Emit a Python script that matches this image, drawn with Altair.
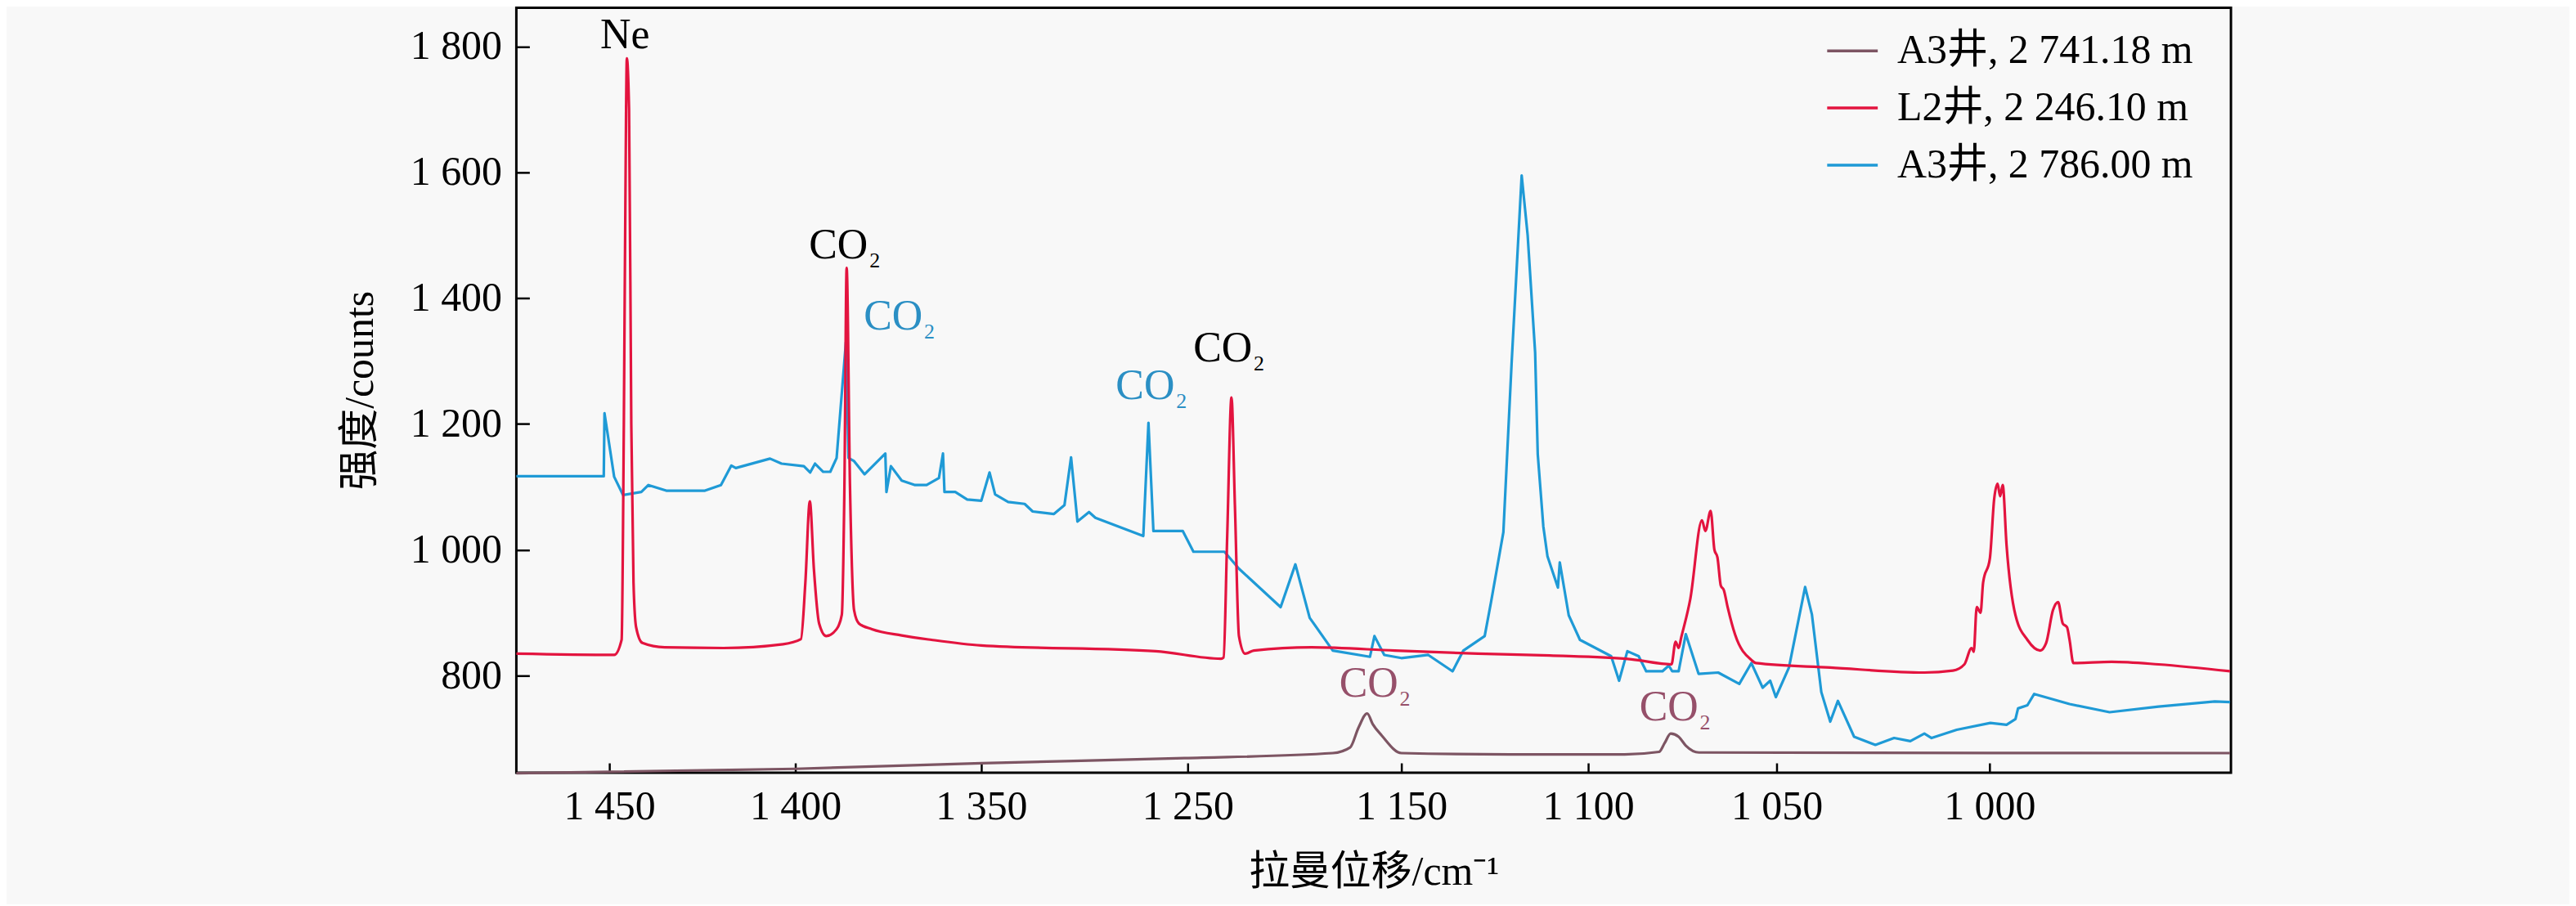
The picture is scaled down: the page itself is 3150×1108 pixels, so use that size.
import altair as alt
import pandas as pd

S1 = "A3井, 2 741.18 m"
S2 = "L2井, 2 246.10 m"
S3 = "A3井, 2 786.00 m"

# A3井, 2 786.00 m (blue)
blue_x = [1475, 1451.5, 1451.3, 1448.7, 1446.3, 1441.4, 1439.5, 1434.7, 1424.3, 1420, 1417.2, 1416,
          1406.8, 1403.7, 1397.7, 1396, 1394.7, 1392.5, 1390.6, 1388.9, 1386.4, 1385.7, 1384.2, 1381.4,
          1375.8, 1375.5, 1374.3, 1371.4, 1367.8, 1364.7, 1361.4, 1360.3, 1359.9, 1357, 1353.8, 1350,
          1346, 1343.3, 1337, 1329, 1325.1, 1314.8, 1309.7, 1306.5, 1303.4, 1297.8, 1294.7, 1271.5,
          1269, 1266.6, 1252.4, 1247.3, 1232.8, 1226, 1206.5, 1199.6, 1192.9, 1182.1, 1164.7, 1162.6,
          1158, 1150, 1142.8, 1136.3, 1133.4, 1127.7, 1126, 1122.7, 1120.5, 1117.8, 1116.2, 1114.2,
          1113.5, 1112, 1110.9, 1108.1, 1107.6, 1105.2, 1102.2, 1093.9, 1091.8, 1089.6, 1086.6, 1084.6,
          1080.3, 1078.6, 1077.7, 1076, 1074.1, 1070.7, 1065.5, 1059.9, 1056.7, 1053.7, 1051.7, 1050.2,
          1047.1, 1043.3, 1041.7, 1039.5, 1037.4, 1035.6, 1031.8, 1026.8, 1022.4, 1018.6, 1015.3, 1013.6,
          1007.7, 999.8, 996, 993.9, 993.3, 991.1, 989.5, 981.2, 971.8, 960.3, 947.1, 943.5]
blue_y = [1117, 1117, 1217, 1116, 1087, 1092, 1103, 1094, 1094, 1103, 1134, 1130,
          1145, 1137, 1133, 1123, 1137, 1124, 1124, 1146, 1330, 1146, 1141, 1120,
          1153, 1092, 1133, 1110, 1103, 1103, 1114, 1153, 1092, 1092, 1080, 1078,
          1123, 1088, 1076, 1073, 1061, 1057, 1071, 1147, 1045, 1060, 1051, 1022,
          1202, 1030, 1030, 997, 997, 970, 909, 977, 892, 840, 830, 863,
          833, 828, 833, 807, 840, 863, 917, 1028, 1296, 1595, 1500, 1314,
          1152, 1037, 990, 940, 980, 896, 857, 831, 792, 839, 831, 807,
          807, 816, 807, 807, 866, 803, 805, 787, 820, 781, 792, 766,
          813, 941, 897, 774, 727, 760, 703, 690, 701, 696, 708, 701,
          714, 725, 722, 731, 748, 753, 771, 755, 742, 751, 759, 758]

# L2井, 2 246.10 m (red)
red_x = [1475, 1448.7, 1446.7, 1446.1, 1445.5, 1445.3, 1444.7, 1444.1, 1443.5, 1442.8, 1441.1, 1435.1,
         1419.3, 1403.3, 1398.5, 1397.3, 1396.1, 1395, 1393.6, 1391.7, 1388.9, 1387.5, 1386.8, 1386.2,
         1385.3, 1384.2, 1382.9, 1379.4, 1371.4, 1363.4, 1350, 1265.6, 1234.4, 1233.2, 1231.5, 1229.5,
         1227.9, 1226, 1223.1, 1219.1, 1192, 1153.1, 1129.5, 1110.3, 1088.5, 1077.9, 1076.8, 1076,
         1075.3, 1072.9, 1069.8, 1068.9, 1067.5, 1066.5, 1065.7, 1064.8, 1064, 1063, 1061, 1056.7,
         1055.5, 1037.4, 1015.3, 1008.6, 1005.9, 1004.2, 1003.7, 1003, 1002.1, 1001.5, 999.9, 998.9,
         998.1, 997.5, 996.9, 996, 993.9, 991.1, 988.1, 986.7, 985.1, 983.9, 982.8, 981.8,
         981.2, 980.3, 971.3, 960.3, 943.5]
red_y = [835, 833, 857, 1200, 1700, 1781, 1700, 1200, 948, 877, 852, 845,
         844, 850, 858, 948, 1077, 969, 883, 863, 874, 897, 1100, 1448,
         1100, 904, 883, 874, 864, 857, 848, 839, 827, 829, 1022, 1242,
         1071, 863, 835, 840, 845, 840, 835, 832, 826, 818, 854, 844,
         861, 922, 1047, 1030, 1062, 1000, 988, 943, 936, 909, 865, 825,
         820, 813, 805, 808, 818, 844, 838, 909, 900, 948, 987, 1081,
         1105, 1085, 1103, 1008, 896, 857, 840, 852, 904, 917, 883, 877,
         857, 820, 822, 818, 807]

# A3井, 2 741.18 m (grey)
gray_x = [1475, 1400, 1350, 1251.6, 1182.1, 1174, 1170, 1166, 1163.4, 1159.2, 1150, 1120.9,
          1090.3, 1081.2, 1079.7, 1078.1, 1076, 1074.1, 1070.6, 943.5]
gray_y = [645, 652, 661, 669, 677, 686, 718, 740, 723, 705, 677, 675,
          675, 679, 693, 708, 703, 689, 678, 677]

# peak labels
ann_x = [1445.8, 1388.4, 1373.7, 1270.6, 1233.6, 1165.3, 1078.6]
ann_y = [1796.8, 1463.6, 1349.6, 1239.4, 1299.0, 766.3, 728.7]
ann_text = ["Ne", "CO", "CO", "CO", "CO", "CO", "CO"]
ann_sub = ["", "2", "2", "2", "2", "2", "2"]
ann_color = ["#000000", "#000000", "#2b8fc4", "#2b8fc4", "#000000", "#96506a", "#96506a"]

x_ticks = [1450, 1400, 1350, 1250, 1150, 1100, 1050, 1000]
y_ticks = [800, 1000, 1200, 1400, 1600, 1800]

series_order = [S1, S2, S3]
series_colors = ["#7d5563", "#e3143f", "#1f9ad6"]

FONT = "Liberation Serif, Noto Sans CJK SC"


def frame(xs, ys, name):
    return pd.DataFrame({"x": xs, "y": ys, "series": name, "i": list(range(len(xs)))})


df_blue = frame(blue_x, blue_y, S3)
df_red = frame(red_x, red_y, S2)
df_gray = frame(gray_x, gray_y, S1)
df_ann = pd.DataFrame({"x": ann_x, "y": ann_y, "t": ann_text, "sub": ann_sub, "c": ann_color})

label_expr = ("datum.value >= 1000 ? floor(datum.value / 1000) + ' ' + format(datum.value % 1000, '03d')"
              " : format(datum.value, 'd')")

xscale = alt.Scale(domain=[1475, 1450, 1400, 1350, 1250, 1150, 1100, 1050, 1000, 943.3],
                   range=[0, 114, 342, 570, 823, 1085, 1314, 1545, 1806, 2102],
                   nice=False, zero=False)
yscale = alt.Scale(domain=[645.8, 1861.6], nice=False, zero=False)

xenc = alt.X("x:Q", scale=xscale,
             axis=alt.Axis(values=x_ticks, labelExpr=label_expr, title="拉曼位移/cm⁻¹",
                           offset=-12, tickSize=12, tickWidth=2.5, tickColor="black", domain=False,
                           labelPadding=17, titlePadding=30, labelFlush=False))
yenc = alt.Y("y:Q", scale=yscale,
             axis=alt.Axis(values=y_ticks, labelExpr=label_expr, title="强度/counts",
                           offset=-16, tickSize=16, tickWidth=2.5, tickColor="black", domain=False,
                           labelPadding=18, titlePadding=36))

legend = alt.Legend(orient="none", legendX=1605, legendY=20, title=None,
                    labelFont=FONT, labelFontSize=50, labelColor="black", labelLimit=1000,
                    symbolType="stroke", symbolSize=3844, symbolStrokeWidth=3.5,
                    labelOffset=22, rowPadding=12, padding=0)
cenc = alt.Color("series:N", scale=alt.Scale(domain=series_order, range=series_colors), legend=legend)


def line(df, interp):
    return alt.Chart(df).mark_line(strokeWidth=3.2, strokeJoin="round", interpolate=interp).encode(
        x=xenc, y=yenc, color=cenc, order="i:Q")


txt = alt.Chart(df_ann).mark_text(font=FONT, fontSize=52, align="center", baseline="alphabetic").encode(
    x=alt.X("x:Q", scale=xscale), y=alt.Y("y:Q", scale=yscale), text="t:N",
    color=alt.Color("c:N", scale=None))
sub = alt.Chart(df_ann).transform_filter("datum.sub != ''").mark_text(
    font=FONT, fontSize=26, align="left", baseline="alphabetic", dx=38, dy=11).encode(
    x=alt.X("x:Q", scale=xscale), y=alt.Y("y:Q", scale=yscale), text="sub:N",
    color=alt.Color("c:N", scale=None))

chart = alt.layer(line(df_blue, "linear"), line(df_gray, "monotone"), line(df_red, "monotone"),
                  txt, sub).properties(
    width=2102, height=938, autosize="none",
    padding={"left": 625, "top": 0, "right": 415, "bottom": 160},
    background="#f8f8f8",
).configure_view(stroke="black", strokeWidth=3).configure_axis(
    grid=False, labelFont=FONT, labelFontSize=50, labelColor="black",
    titleFont=FONT, titleFontSize=50, titleColor="black", titleFontWeight="normal")

chart.save("out.html", embed_options={"renderer": "svg", "actions": False})
